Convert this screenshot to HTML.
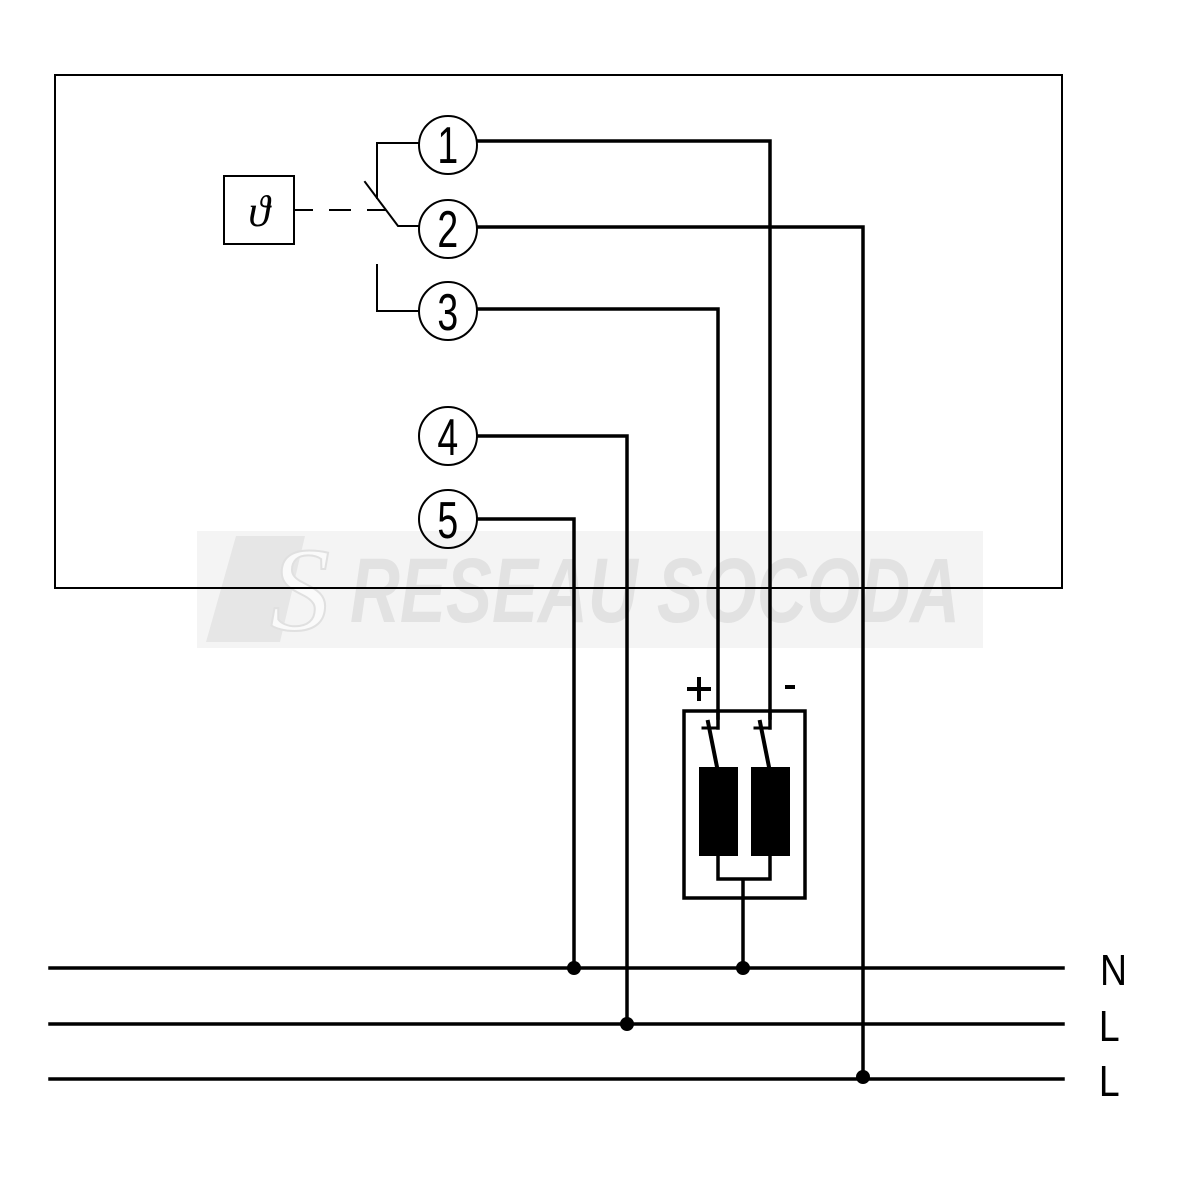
<!DOCTYPE html>
<html><head><style>html,body{margin:0;padding:0;background:#fff}svg{display:block}</style></head>
<body>
<svg width="1180" height="1180" viewBox="0 0 1180 1180" xmlns="http://www.w3.org/2000/svg">
<rect x="0" y="0" width="1180" height="1180" fill="#fff"/>
<rect x="197" y="531" width="786" height="117" fill="#f4f4f4"/>
<polygon points="236,536 305,536 280,642 206,642" fill="#e6e6e6"/>
<text x="350" y="622" font-family="Liberation Sans, sans-serif" font-weight="bold" font-style="italic" font-size="92" fill="#e2e2e2" textLength="610" lengthAdjust="spacingAndGlyphs">RESEAU SOCODA</text>
<text x="270" y="630" font-family="Liberation Serif, serif" font-style="italic" font-size="120" fill="#fafafa" stroke="#e0e0e0" stroke-width="2">S</text>
<g fill="none" stroke="#000" stroke-linecap="square">
<rect x="55" y="75" width="1007" height="513" stroke-width="2"/>
<rect x="224" y="176" width="70" height="68" stroke-width="2"/>
<path d="M294,210 H312 M330,210 H350 M368,210 H385" stroke-width="2"/>
<path d="M377,198 V143 H418" stroke-width="2"/>
<path d="M365,182 L398,226 H418" stroke-width="2"/>
<path d="M377,265 V311 H418" stroke-width="2"/>
<circle cx="448" cy="145" r="29" stroke-width="2"/>
<circle cx="448" cy="229" r="29" stroke-width="2"/>
<circle cx="448" cy="311" r="29" stroke-width="2"/>
<circle cx="448" cy="436" r="29" stroke-width="2"/>
<circle cx="448" cy="519" r="29" stroke-width="2"/>
<path d="M478,141 H770 V718" stroke-width="3.5"/>
<path d="M478,227 H863 V1077" stroke-width="3.5"/>
<path d="M478,309 H718 V718" stroke-width="3.5"/>
<path d="M478,436 H627 V1024" stroke-width="3.5"/>
<path d="M478,519 H574 V968" stroke-width="3.5"/>
<rect x="684" y="711" width="121" height="187" stroke-width="3.5"/>
<path d="M718,711 V728 M770,711 V728" stroke-width="3.5"/>
<path d="M703,728 H718 M755,728 H770" stroke-width="3"/>
<path d="M708,722 L717,767 M760,722 L769,767" stroke-width="4"/>
<path d="M718,856 V879 H770 V856 M743,879 V968" stroke-width="3.5"/>
<path d="M50,968 H1063 M50,1024 H1063 M50,1079 H1063" stroke-width="3.5"/>
<!-- plus / minus -->
<path d="M687,689 H711 M699,677 V701" stroke-width="4" stroke-linecap="butt"/>
<path d="M785,687 H795" stroke-width="4" stroke-linecap="butt"/>
</g>
<rect x="699" y="767" width="39" height="89" fill="#000"/>
<rect x="751" y="767" width="39" height="89" fill="#000"/>
<circle cx="574" cy="968" r="7" fill="#000"/>
<circle cx="743" cy="968" r="7" fill="#000"/>
<circle cx="627" cy="1024" r="7" fill="#000"/>
<circle cx="863" cy="1077" r="7" fill="#000"/>
<g font-family="Liberation Sans, sans-serif" fill="#000">
<g font-size="52" text-anchor="middle" transform="scale(0.72,1)">
<text x="622" y="163">1</text>
<text x="622" y="247">2</text>
<text x="622" y="330">3</text>
<text x="622" y="455">4</text>
<text x="622" y="538">5</text>
</g>
<g font-size="44" text-anchor="middle" transform="scale(0.85,1)">
<text x="1310" y="985">N</text>
<text x="1305" y="1041">L</text>
<text x="1305" y="1096">L</text>
</g>
<text x="259" y="226" font-family="Liberation Serif, serif" font-style="italic" font-size="44" text-anchor="middle">ϑ</text>
</g>
</svg>
</body></html>
